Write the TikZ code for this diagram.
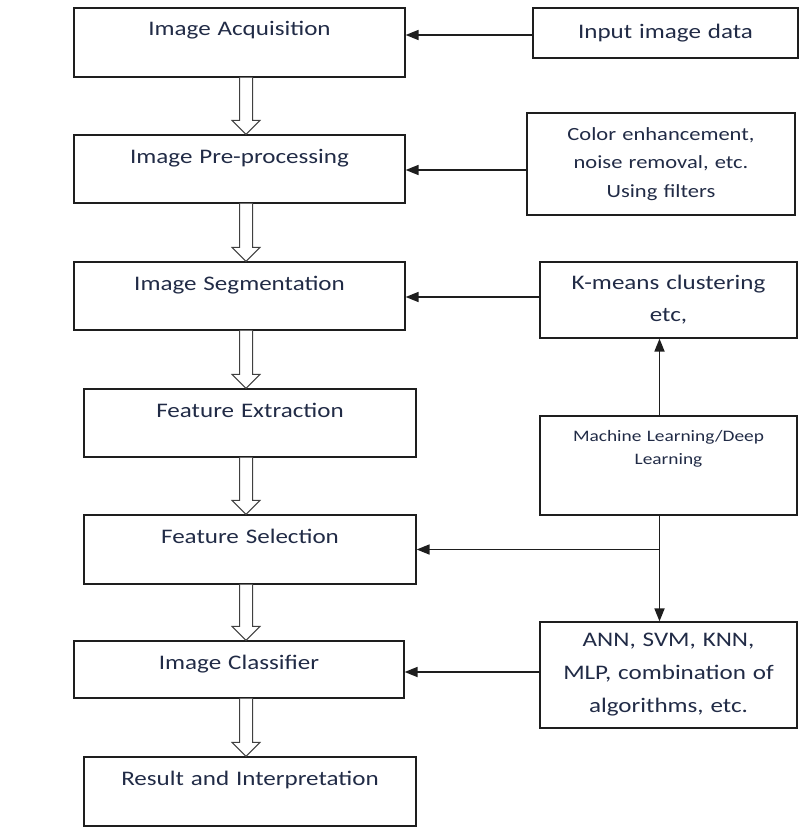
\documentclass[tikz,border=0pt]{standalone}
\usepackage{fontspec}
\setmainfont{Carlito}[FakeStretch=1.21]
\usetikzlibrary{arrows.meta,calc}
\definecolor{txtc}{RGB}{33,43,70}
\definecolor{lnc}{RGB}{30,30,30}
\newcommand{\hollowarrow}[2]{%
  \draw[harrow] let \p1=(#1.south), \p2=(#2.north) in
    (239.5pt,\y1) -- (239.5pt,\y2+14pt) -- (232pt,\y2+14pt) -- (246pt,\y2)
    -- (260pt,\y2+14pt) -- (252.5pt,\y2+14pt) -- (252.5pt,\y1);}
\begin{document}
\begin{tikzpicture}[x=1pt,y=-1pt,
  box/.style={draw=lnc, line width=1.2pt, rectangle, inner sep=0pt, align=center, text=txtc},
  lbox/.style={box, font=\fontsize{20.7}{25}\selectfont, text height=28pt},
  conn/.style={draw=lnc, line width=1.7pt, -{Triangle[length=13pt,width=10pt]}},
  harrow/.style={draw=lnc!85, line width=1pt, fill=white}]
\useasboundingbox (0,0) rectangle (808,832);
% left column
\node[lbox, text width=331pt, text depth=41pt] (acq) at (239.5,42.5) {Image Acquisition};
\node[lbox, text width=331pt, text depth=40pt] (pre) at (239.5,169) {Image Pre-processing};
\node[lbox, text width=331pt, text depth=40pt] (seg) at (239.5,296) {Image Segmentation};
\node[lbox, text width=332pt, text depth=40pt] (fex) at (250,423) {Feature Extraction};
\node[lbox, text width=332pt, text depth=41pt] (fsel) at (250,549.5) {Feature Selection};
\node[lbox, text width=330pt, text depth=29pt] (cls) at (239,669.5) {Image Classifier};
\node[lbox, text width=332pt, text depth=41pt] (res) at (250,791.5) {Result and Interpretation};
% right column
\node[box, text width=265pt, minimum height=50pt, font=\fontsize{20.7}{25}\selectfont] (inp) at (665.5,33) {Input image data};
\node[box, text width=268pt, minimum height=102pt, font=\fontsize{18.6}{28.5}\selectfont] (col) at (661,164) {Color enhancement,\\ noise removal, etc.\\ Using filters};
\node[box, text width=257pt, minimum height=76pt, font=\fontsize{20.7}{32}\selectfont] (km) at (668.5,300) {K-means clustering\\ etc,};
\node[box, text width=257pt, text height=25pt, text depth=74pt, font=\fontsize{16}{23}\selectfont] (ml) at (668.5,465.5) {Machine Learning/Deep\\ Learning};
\node[box, text width=257pt, minimum height=106pt, font=\fontsize{20.7}{33}\selectfont] (ann) at (668.5,675) {ANN, SVM, KNN,\\ MLP, combination of\\ algorithms, etc.};
% hollow arrows
\hollowarrow{acq}{pre}
\hollowarrow{pre}{seg}
\hollowarrow{seg}{fex}
\hollowarrow{fex}{fsel}
\hollowarrow{fsel}{cls}
\hollowarrow{cls}{res}
% connectors
\draw[conn] ([yshift=-2pt]inp.west) -- ([yshift=-2pt]inp.west -| acq.east);
\draw[conn] ([yshift=-6pt]col.west) -- ([yshift=-6pt]col.west -| pre.east);
\draw[conn] ([yshift=3pt]km.west) -- ([yshift=3pt]km.west -| seg.east);
\draw[conn] ([xshift=-9pt]ml.north) -- ([xshift=-9pt]ml.north |- km.south);
\draw[conn] ([xshift=-9pt]ml.south) -- ([xshift=-9pt]ml.south |- ann.north);
\coordinate (junc) at ([xshift=-9pt]ml.south |- fsel.east);
\draw[conn] (junc) -- (fsel.east);
\draw[conn] ([yshift=3pt]ann.west) -- ([yshift=3pt]ann.west -| cls.east);
\end{tikzpicture}
\end{document}
